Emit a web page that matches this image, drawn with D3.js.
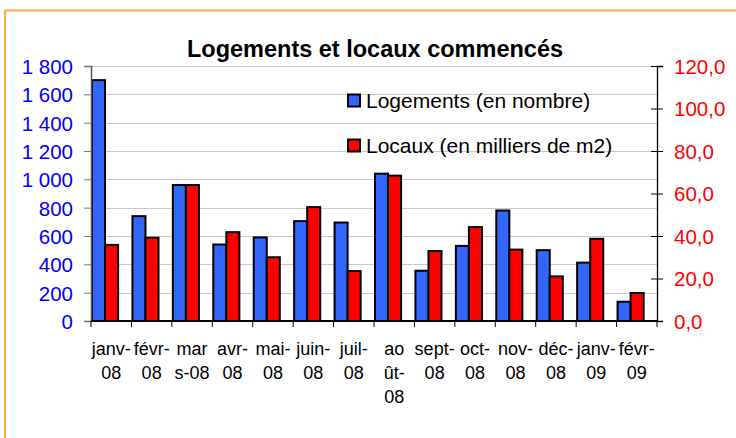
<!DOCTYPE html>
<html>
<head>
<meta charset="utf-8">
<script src="https://cdn.jsdelivr.net/npm/d3@7"></script>
<style>
  body { margin: 0; background: #fff; }
  svg text { font-family: "Liberation Sans", Arial, sans-serif; }
</style>
</head>
<body>
<svg id="canvas"></svg>
<script>
var width = 736,
  height = 438,
  margin = {top: 66, right: 79, bottom: 117, left: 91};

// months, with the line breaks the original chart shows
var categories = ['janv-08', 'févr-08', 'mars-08', 'avr-08', 'mai-08', 'juin-08', 'juil-08',
  'août-08', 'sept-08', 'oct-08', 'nov-08', 'déc-08', 'janv-09', 'févr-09'];
var tickLines = [['janv-', '08'], ['févr-', '08'], ['mar', 's-08'], ['avr-', '08'], ['mai-', '08'],
  ['juin-', '08'], ['juil-', '08'], ['ao', 'ût-', '08'], ['sept-', '08'], ['oct-', '08'],
  ['nov-', '08'], ['déc-', '08'], ['janv-', '09'], ['févr-', '09']];

var logements = [1700, 740, 960, 540, 590, 705, 695, 1040, 355, 530, 780, 500, 412, 136];
var locaux = [35.8, 39.2, 64.0, 41.8, 30.0, 53.6, 23.5, 68.4, 32.9, 44.2, 33.6, 21.0, 38.7, 13.2];

var leftTicks = [0, 200, 400, 600, 800, 1000, 1200, 1400, 1600, 1800];
var rightTicks = [0, 20, 40, 60, 80, 100, 120];
var seriesNames = ['Logements (en nombre)', 'Locaux (en milliers de m2)'];
var seriesColors = ['#3366ff', '#ff0000'];

function draw() {
  var canvas, plotW, plotH, x, xInner, y, y2, frLocale, fmtLeft, fmtRight, g, group, leftAxis, rightAxis;

  canvas = d3.select('#canvas')
    .attr('width', width)
    .attr('height', height);

  plotW = width - margin.left - margin.right;
  plotH = height - margin.top - margin.bottom;

  frLocale = d3.formatLocale({decimal: ',', thousands: ' ', grouping: [3], currency: ['', ' €']});
  fmtLeft = frLocale.format(',d');
  fmtRight = frLocale.format('.1f');

  x = d3.scaleBand().domain(categories).range([0, plotW]);
  xInner = d3.scaleBand().domain([0, 1]).range([1, x.bandwidth() * 0.67]);
  y = d3.scaleLinear().domain([0, 1800]).range([plotH, 0]);
  y2 = d3.scaleLinear().domain([0, 120]).range([plotH, 0]);

  // outer frame (only top and left edges are visible)
  canvas.append('rect')
    .attr('x', 5)
    .attr('y', 10.5)
    .attr('width', 800)
    .attr('height', 500)
    .attr('fill', 'none')
    .attr('stroke', '#fbb040')
    .attr('stroke-width', 2);

  g = canvas.append('g')
    .attr('transform', 'translate(' + margin.left + ',' + margin.top + ')');

  // GRID
  g.append('g')
    .selectAll('line')
    .data(leftTicks.slice(1))
    .enter()
    .append('line')
    .attr('x1', 0)
    .attr('x2', plotW)
    .attr('y1', function(d) { return Math.round(y(d)) + 0.5; })
    .attr('y2', function(d) { return Math.round(y(d)) + 0.5; })
    .attr('stroke', '#c8c8c8')
    .attr('stroke-width', 1.2);

  // BARS
  group = g.selectAll('g.month')
    .data(categories)
    .enter()
    .append('g')
    .attr('class', 'month')
    .attr('transform', function(d) { return 'translate(' + x(d) + ',0)'; });

  group.append('rect')
    .attr('x', xInner(0))
    .attr('width', xInner.bandwidth())
    .attr('y', function(d, i) { return y(logements[i]); })
    .attr('height', function(d, i) { return plotH - y(logements[i]); })
    .attr('fill', seriesColors[0])
    .attr('stroke', '#000')
    .attr('stroke-width', 2);

  group.append('rect')
    .attr('x', xInner(1))
    .attr('width', xInner.bandwidth())
    .attr('y', function(d, i) { return y2(locaux[i]); })
    .attr('height', function(d, i) { return plotH - y2(locaux[i]); })
    .attr('fill', seriesColors[1])
    .attr('stroke', '#000')
    .attr('stroke-width', 2);

  // LEFT AXIS
  leftAxis = g.append('g')
    .call(d3.axisLeft(y).tickValues(leftTicks).tickFormat(fmtLeft).tickSize(7).tickPadding(11));
  leftAxis.select('.domain').attr('stroke', '#555').attr('stroke-width', 1.5);
  leftAxis.selectAll('line').attr('stroke', '#777');
  leftAxis.selectAll('text')
    .attr('fill', '#0000ff')
    .style('font-size', '20.5px')
    .attr('dy', '0.36em');

  // RIGHT AXIS (ticks cross the line)
  rightAxis = g.append('g')
    .attr('transform', 'translate(' + plotW + ',0)')
    .call(d3.axisRight(y2).tickValues(rightTicks).tickFormat(fmtRight).tickSize(6).tickPadding(11));
  rightAxis.select('.domain').attr('stroke', '#000').attr('stroke-width', 1.3);
  rightAxis.selectAll('.tick line').attr('x1', -6).attr('stroke', '#000');
  rightAxis.selectAll('text')
    .attr('fill', '#ff0000')
    .style('font-size', '20.5px')
    .attr('dy', '0.36em');

  // BOTTOM AXIS
  g.append('line')
    .attr('x1', 0)
    .attr('x2', plotW)
    .attr('y1', plotH)
    .attr('y2', plotH)
    .attr('stroke', '#000')
    .attr('stroke-width', 2);

  g.append('g')
    .selectAll('line')
    .data(d3.range(categories.length + 1))
    .enter()
    .append('line')
    .attr('x1', function(i) { return i * x.step(); })
    .attr('x2', function(i) { return i * x.step(); })
    .attr('y1', plotH)
    .attr('y2', plotH + 6)
    .attr('stroke', '#000');

  group.append('text')
    .attr('x', x.bandwidth() / 2)
    .attr('text-anchor', 'middle')
    .style('font-size', '18px')
    .attr('fill', '#000')
    .selectAll('tspan')
    .data(function(d, i) { return tickLines[i]; })
    .enter()
    .append('tspan')
    .attr('x', x.bandwidth() / 2)
    .attr('y', function(d, j) { return plotH + 34 + j * 24; })
    .text(function(d) { return d; });

  // TITLE
  canvas.append('text')
    .attr('x', 375)
    .attr('y', 57)
    .attr('text-anchor', 'middle')
    .style('font-size', '23.5px')
    .style('font-weight', 'bold')
    .text('Logements et locaux commencés');

  // LEGEND
  var legend = canvas.append('g')
    .attr('transform', 'translate(347,94)');

  var item = legend.selectAll('g')
    .data(seriesNames)
    .enter()
    .append('g')
    .attr('transform', function(d, i) { return 'translate(0,' + i * 45 + ')'; });

  item.append('rect')
    .attr('x', 1)
    .attr('y', 0.5)
    .attr('width', 12)
    .attr('height', 12)
    .attr('fill', function(d, i) { return seriesColors[i]; })
    .attr('stroke', '#000')
    .attr('stroke-width', 2);

  item.append('text')
    .attr('x', 19)
    .attr('y', 14)
    .style('font-size', '21px')
    .attr('fill', '#000')
    .text(function(d) { return d; });
}

draw();
</script>
</body>
</html>
